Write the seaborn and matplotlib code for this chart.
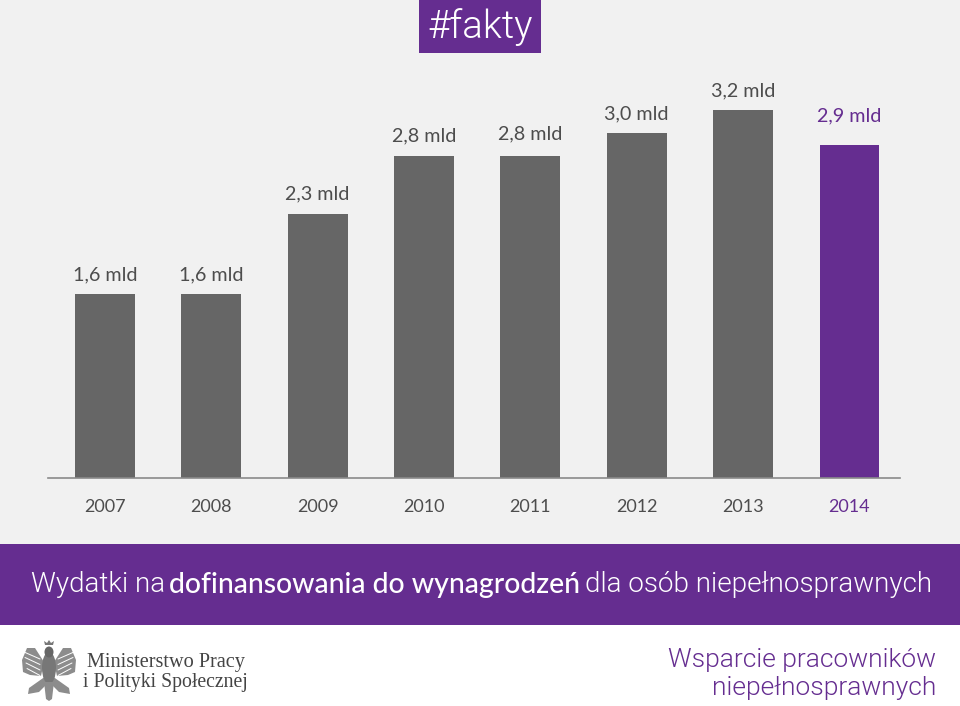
import matplotlib
matplotlib.use("Agg")
import matplotlib.pyplot as plt
import seaborn as sns
import pandas as pd
import numpy as np
from matplotlib.patches import Rectangle, Polygon, Ellipse

years = ["2007", "2008", "2009", "2010", "2011", "2012", "2013", "2014"]
values = [1.6, 1.6, 2.3, 2.8, 2.8, 3.0, 3.2, 2.9]
labels = ["1,6 mld", "1,6 mld", "2,3 mld", "2,8 mld", "2,8 mld", "3,0 mld", "3,2 mld", "2,9 mld"]
GREY = "#666666"
TEXT = "#4d4d4d"
PURPLE = "#652d90"
colors = [GREY] * 7 + [PURPLE]

W, H = 960, 706
sns.set_theme(style="white")
plt.rcParams["font.family"] = ["Lato", "DejaVu Sans"]
fig = plt.figure(figsize=(W / 100, H / 100), dpi=100, facecolor="#f1f1f1")

ax = fig.add_axes([48 / W, 1 - 478 / H, (900 - 48) / W, (478 - 60) / H])
ax.set_facecolor("none")
df = pd.DataFrame({"year": years, "value": values})
sns.barplot(data=df, x="year", y="value", hue="year", palette=colors, legend=False,
            width=0.563, saturation=1, linewidth=0, ax=ax)
ax.set_xlim(-0.535, 7.475)
ax.set_ylim(0, 418 / 115)
sns.despine(ax=ax, left=True)
ax.spines["bottom"].set_color("#8a8a8a")
ax.spines["bottom"].set_linewidth(1.2)
ax.set_xlabel("")
ax.set_ylabel("")
ax.set_yticks([])
ax.tick_params(axis="x", length=0, pad=15)
for t, c in zip(ax.get_xticklabels(), colors):
    t.set_color(TEXT if c == GREY else PURPLE)
    t.set_fontsize(13)
# small hand adjustments of the labels, in pixels above each bar
label_gap = [11, 11, 11, 12, 14, 11, 11, 20]
for i, (v, l, g) in enumerate(zip(values, labels, label_gap)):
    ax.annotate(l, (i, v), xytext=(0, g * 0.72), textcoords="offset points", ha="center", va="bottom",
                fontsize=14.2, color=TEXT if i < 7 else PURPLE)

bg = fig.add_axes([0, 0, 1, 1], zorder=-1)
bg.set_xlim(0, W)
bg.set_ylim(H, 0)
bg.axis("off")
LIGHT = "Roboto"
bg.add_patch(Rectangle((0, 544), W, 81, color=PURPLE, lw=0))
bg.add_patch(Rectangle((0, 625), W, 81, color="white", lw=0))
bg.add_patch(Rectangle((419, 0), 122, 53, color=PURPLE, lw=0))
bg.text(480, 27, "#fakty", color="white", fontsize=27.7, ha="center", va="center", fontweight=300, family=LIGHT)
bg.text(31, 584.5, "Wydatki na", color="white", fontsize=20, ha="left", va="center", fontweight=300, family=LIGHT)
bg.text(169, 584.5, "dofinansowania do wynagrodzeń", color="white", fontsize=20.4, ha="left", va="center", fontweight="medium")
bg.text(585, 584.5, "dla osób niepełnosprawnych", color="white", fontsize=20, ha="left", va="center", fontweight=300, family=LIGHT)
bg.text(936, 660, "Wsparcie pracowników", color=PURPLE, fontsize=19, ha="right", va="center", fontweight=300, family=LIGHT)
bg.text(936, 688, "niepełnosprawnych", color=PURPLE, fontsize=19, ha="right", va="center", fontweight=300, family=LIGHT)
bg.text(87, 662, "Ministerstwo Pracy", color="#444444", fontsize=14.6, family="Liberation Serif", va="center")
bg.text(83, 683, "i Polityki Społecznej", color="#444444", fontsize=14.2, family="Liberation Serif", va="center")

# simplified emblem (decorative logo)
EAGLE = "#8c8c8c"
cx = 49
for side in (-1, 1):
    wing = [(cx + side * 5, 662), (cx + side * 14, 648), (cx + side * 22, 648), (cx + side * 27, 660),
            (cx + side * 26, 672), (cx + side * 19, 675), (cx + side * 8, 676)]
    bg.add_patch(Polygon(wing, closed=True, color=EAGLE, lw=0))
    leg = [(cx + side * 3, 676), (cx + side * 20, 688), (cx + side * 21, 694), (cx + side * 10, 692), (cx + side * 2, 684)]
    bg.add_patch(Polygon(leg, closed=True, color=EAGLE, lw=0))
    for k in range(4):
        y0 = 652 + k * 5.5
        bg.plot([cx + side * 9, cx + side * (25 - k)], [y0 + 7, y0], color="white", lw=0.7)
bg.add_patch(Ellipse((cx, 668), 14, 32, color="#777777", lw=0))
bg.add_patch(Ellipse((cx, 652), 9, 11, color="#666666", lw=0))
bg.add_patch(Polygon([(cx - 4, 645), (cx - 5, 641), (cx - 2, 643), (cx, 640), (cx + 2, 643), (cx + 5, 641), (cx + 4, 645)],
                     closed=True, color="#777777", lw=0))
bg.add_patch(Polygon([(cx - 5, 682), (cx + 5, 682), (cx + 3, 699), (cx, 701), (cx - 3, 699)], closed=True, color=EAGLE, lw=0))
bg.set_xlim(0, W)
bg.set_ylim(H, 0)
fig.savefig("out.png", dpi=100, facecolor=fig.get_facecolor())
